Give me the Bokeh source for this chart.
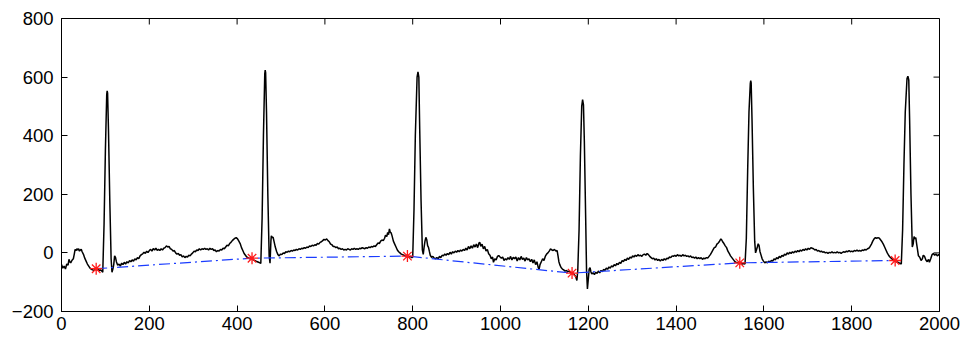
from bokeh.plotting import figure
from bokeh.models import Range1d, FixedTicker
from bokeh.embed import file_html
from bokeh.resources import INLINE

# ECG signal
sig = [
(0,-40),(3,-52),(6,-45),(9,-55),(12,-38),(15,-42),(17,-22),(19,-30),(21,-34),(24,-25),(27,-20),(29,-5),(31,12),(33,8),(35,14),(37,10),(39,14),(41,6),(43,10),(45,12),(47,4),(50,-5),(53,-18),(56,-28),(59,-38),(62,-45),(65,-52),(68,-56),(71,-58),(74,-60),(77,-56),(80,-58),(83,-55),(86,-60),(89,-58),(92,-62),(94,-66),
(97,100),(100,350),(103,540),(104,553),(105,545),(107,420),(110,180),(113,-20),(115,-66),(117,-55),(119,-40),(121,-10),(123,-15),(125,-30),(128,-42),(131,-38),(134,-45),(137,-35),(140,-40),(143,-32),(146,-38),(149,-30),(152,-34),(155,-26),(158,-30),(161,-24),(164,-28),(167,-20),(170,-24),(173,-16),(176,-20),(179,-10),(182,-6),(185,-3),(188,2),(191,-2),(194,6),(197,1),(200,8),(203,12),(206,6),(209,15),(212,10),(215,16),(218,9),(221,12),(224,8),(227,14),(230,10),(233,16),(236,18),(239,24),(242,20),(245,22),(248,14),(251,12),(254,6),(257,8),(260,0),(263,-4),(266,-2),(269,-8),(272,-6),(275,-14),(278,-10),(281,-16),(284,-12),(287,-14),(290,-8),(293,-10),(296,-4),(299,0),(302,6),(305,4),(308,10),(311,8),(314,14),(317,10),(320,14),(323,12),(326,16),(329,12),(332,14),(335,10),(338,16),(341,12),(344,14),(347,8),(350,10),(353,4),(356,8),(359,6),(362,12),(365,10),(368,16),(371,14),(374,20),(377,26),(380,24),(383,32),(386,36),(389,42),(392,46),(395,50),(398,52),(401,48),(404,40),(407,32),(410,18),(413,8),(416,-2),(419,-8),(422,-14),(425,-16),(428,-20),(431,-18),(434,-22),(437,-24),(440,-26),(443,-28),(446,-30),(449,-32),(452,-34),(454,-36),
(457,120),(460,400),(463,610),(464,624),(465,615),(467,480),(470,200),(473,-10),(475,-35),(477,40),(478,58),(480,52),(482,54),(484,40),(487,20),(490,5),(493,-6),(496,-10),(499,-4),(502,-6),(505,0),(508,-2),(511,4),(514,2),(517,6),(520,4),(523,8),(526,6),(529,10),(532,8),(535,12),(538,10),(541,14),(544,12),(547,16),(550,14),(553,18),(556,16),(559,20),(562,18),(565,24),(568,22),(571,26),(574,24),(577,28),(580,26),(583,32),(586,30),(589,36),(592,38),(595,42),(598,46),(601,44),(604,48),(607,42),(610,38),(613,30),(616,28),(619,22),(622,22),(625,18),(628,20),(631,14),(634,16),(637,12),(640,14),(643,10),(646,12),(649,10),(652,14),(655,12),(658,10),(661,14),(664,12),(667,16),(670,12),(673,14),(676,12),(679,16),(682,14),(685,18),(688,16),(691,14),(694,18),(697,16),(700,20),(703,18),(706,22),(709,20),(712,24),(715,22),(718,28),(721,34),(724,32),(727,40),(730,44),(733,42),(736,50),(738,60),(741,56),(743,70),(745,62),(747,82),(749,70),(751,68),(753,58),(756,40),(759,30),(762,20),(765,10),(768,4),(771,0),(774,-4),(777,-6),(780,-8),(783,-10),(786,-12),(789,-10),(792,-14),(795,-12),(798,-16),(800,-15),
(803,150),(806,400),(810,600),(812,618),(814,600),(816,420),(819,180),(822,10),(824,-5),(826,20),(828,40),(830,53),(832,45),(834,25),(836,19),(838,5),(840,-8),(843,-15),(846,-12),(849,-18),(852,-20),(855,-16),(858,-20),(861,-12),(864,-16),(867,-8),(870,-10),(873,-4),(876,-8),(879,-2),(882,-6),(885,2),(888,-4),(891,4),(894,0),(897,6),(900,2),(903,8),(906,4),(909,10),(912,6),(915,12),(918,8),(921,16),(924,10),(927,22),(930,14),(933,24),(936,16),(939,28),(942,20),(945,30),(948,18),(951,34),(953,36),(955,22),(958,30),(961,14),(964,22),(967,6),(970,12),(973,-3),(976,-8),(979,-20),(982,-14),(984,-32),(987,-20),(990,-24),(993,-12),(996,-9),(999,-14),(1002,-18),(1005,-14),(1008,-26),(1011,-20),(1014,-24),(1017,-16),(1020,-22),(1023,-12),(1026,-24),(1029,-15),(1032,-20),(1035,-14),(1038,-28),(1041,-16),(1044,-24),(1047,-12),(1050,-22),(1053,-18),(1056,-28),(1059,-16),(1062,-24),(1065,-20),(1068,-30),(1071,-22),(1074,-34),(1077,-24),(1080,-40),(1083,-30),(1086,-50),(1088,-55),(1090,-40),(1093,-30),(1096,-20),(1099,-26),(1102,-12),(1105,-4),(1108,0),(1111,6),(1114,14),(1117,10),(1120,8),(1123,12),(1126,6),(1129,8),(1131,-10),(1133,-30),(1135,-40),(1138,-50),(1141,-55),(1144,-58),(1147,-62),(1150,-60),(1153,-64),(1156,-62),(1159,-66),(1162,-68),(1165,-70),(1168,-74),(1171,-80),(1174,-94),(1176,-60),
(1179,80),(1182,330),(1185,500),(1187,523),(1189,505),(1191,380),(1194,120),(1196,-60),(1198,-123),(1200,-90),(1202,-55),(1204,-50),(1206,-65),(1208,-72),(1211,-68),(1214,-74),(1217,-66),(1220,-70),(1223,-62),(1226,-68),(1229,-60),(1232,-64),(1235,-56),(1238,-60),(1241,-52),(1244,-56),(1247,-48),(1250,-52),(1253,-44),(1256,-48),(1259,-40),(1262,-44),(1265,-36),(1268,-40),(1271,-32),(1274,-36),(1277,-26),(1280,-30),(1283,-22),(1286,-26),(1289,-18),(1292,-22),(1295,-14),(1298,-18),(1301,-10),(1304,-14),(1307,-8),(1310,-12),(1313,-6),(1316,-10),(1319,-8),(1322,-12),(1325,-6),(1328,-4),(1331,-8),(1334,-2),(1337,-6),(1340,-12),(1343,-16),(1346,-20),(1349,-18),(1352,-24),(1355,-20),(1358,-26),(1361,-22),(1364,-28),(1367,-22),(1370,-26),(1373,-20),(1376,-24),(1379,-18),(1382,-20),(1385,-14),(1388,-16),(1391,-10),(1394,-12),(1397,-8),(1400,-12),(1403,-6),(1406,-10),(1409,-8),(1412,-12),(1415,-6),(1418,-10),(1421,-8),(1424,-12),(1427,-10),(1430,-14),(1433,-10),(1436,-16),(1439,-14),(1442,-18),(1445,-14),(1448,-20),(1451,-16),(1454,-20),(1457,-16),(1460,-22),(1463,-18),(1466,-20),(1469,-16),(1472,-18),(1475,-12),(1478,-6),(1481,2),(1484,10),(1487,18),(1490,20),(1493,30),(1496,34),(1499,40),(1502,48),(1504,44),(1506,38),(1509,32),(1512,24),(1515,18),(1518,6),(1521,-2),(1524,-10),(1527,-16),(1530,-22),(1533,-28),(1536,-32),(1539,-34),(1542,-32),(1545,-36),(1548,-34),(1551,-38),(1554,-36),(1557,-38),
(1560,50),(1563,280),(1566,480),(1569,578),(1570,588),(1571,580),(1573,450),(1576,220),(1579,40),(1581,0),(1583,10),(1585,20),(1587,31),(1589,25),(1591,5),(1593,-5),(1596,-20),(1599,-28),(1602,-34),(1605,-30),(1608,-34),(1611,-28),(1614,-32),(1617,-26),(1620,-28),(1623,-20),(1626,-24),(1629,-16),(1632,-20),(1635,-12),(1638,-16),(1641,-8),(1644,-12),(1647,-4),(1650,-8),(1653,0),(1656,-4),(1659,2),(1662,-2),(1665,4),(1668,0),(1671,6),(1674,2),(1677,8),(1680,4),(1683,10),(1686,6),(1689,12),(1692,8),(1695,14),(1698,10),(1701,16),(1704,12),(1707,18),(1710,16),(1713,14),(1716,10),(1719,12),(1722,6),(1725,8),(1728,4),(1731,6),(1734,2),(1737,4),(1740,0),(1743,2),(1746,-2),(1749,2),(1752,0),(1755,4),(1758,0),(1761,2),(1764,0),(1767,4),(1770,0),(1773,2),(1776,-2),(1779,2),(1782,4),(1785,2),(1788,6),(1791,4),(1794,8),(1797,4),(1800,6),(1803,4),(1806,8),(1809,6),(1812,10),(1815,6),(1818,8),(1821,6),(1824,10),(1827,8),(1830,12),(1833,10),(1836,14),(1839,16),(1842,22),(1845,30),(1848,40),(1851,48),(1854,52),(1857,50),(1860,52),(1863,50),(1866,44),(1869,38),(1872,30),(1875,20),(1878,10),(1881,0),(1884,-8),(1887,-14),(1890,-18),(1893,-22),(1896,-24),(1899,-28),(1902,-30),(1905,-32),(1908,-34),(1911,-36),(1913,-38),
(1916,80),(1919,300),(1922,480),(1926,595),(1928,603),(1930,590),(1932,450),(1935,200),(1938,20),(1940,30),(1942,56),(1944,48),(1946,52),(1948,30),(1950,10),(1952,-10),(1955,-15),(1958,-26),(1961,-20),(1963,-8),(1966,-12),(1969,-24),(1972,-30),(1975,-22),(1977,-32),(1980,-20),(1983,-6),(1986,-2),(1989,-8),(1992,-4),(1995,-10),(1998,-6),(2000,-8),
]
signal_x = [a for a, b in sig]
signal_y = [b for a, b in sig]

# baseline points (red asterisks) and connecting baseline
base_x = [79, 434, 788, 1163, 1545, 1899]
base_y = [-54, -18, -11, -69, -34, -26]

x_ticks = list(range(0, 2001, 200))
y_ticks = list(range(-200, 801, 200))

X0, X1, Y0, Y1 = 0, 2000, -200, 800
p = figure(width=961, height=337, x_range=Range1d(X0, X1), y_range=Range1d(Y0, Y1),
           output_backend="svg", toolbar_location=None,
           min_border_left=61, min_border_right=22, min_border_top=18, min_border_bottom=26)
p.grid.visible = False
p.outline_line_color = "black"
p.outline_line_width = 1

p.line(signal_x, signal_y, line_color="black", line_width=1.5)
p.line(base_x, base_y, line_color="#1a3cff", line_width=1.2, line_dash="11 4 2 4")
p.scatter(base_x, base_y, marker="asterisk", size=12, line_color="#ff1a1a", line_width=1.3)

FONT = "Liberation Sans"
FS = "18.5px"
for ax in (p.xaxis[0], p.yaxis[0]):
    ax.major_tick_in = 6
    ax.major_tick_out = 0
    ax.minor_tick_in = 0
    ax.minor_tick_out = 0
    ax.axis_line_color = "black"
    ax.major_tick_line_color = "black"
    ax.major_label_text_font = FONT
    ax.major_label_text_font_size = FS
    ax.major_label_text_color = "black"
p.xaxis[0].ticker = FixedTicker(ticks=x_ticks)
p.yaxis[0].ticker = FixedTicker(ticks=y_ticks)
p.xaxis[0].major_label_standoff = 5
p.yaxis[0].major_label_standoff = 8

# inward ticks on the top and right edges of the box (6 px long)
frame_w, frame_h = 961 - 61 - 22, 337 - 18 - 26
dy = (Y1 - Y0) * 6 / frame_h
dx = (X1 - X0) * 6 / frame_w
p.segment(x0=x_ticks, y0=[Y1] * len(x_ticks), x1=x_ticks, y1=[Y1 - dy] * len(x_ticks),
          line_color="black", line_width=1)
p.segment(x0=[X1] * len(y_ticks), y0=y_ticks, x1=[X1 - dx] * len(y_ticks), y1=y_ticks,
          line_color="black", line_width=1)

open("out.html", "w").write(file_html(p, INLINE))
